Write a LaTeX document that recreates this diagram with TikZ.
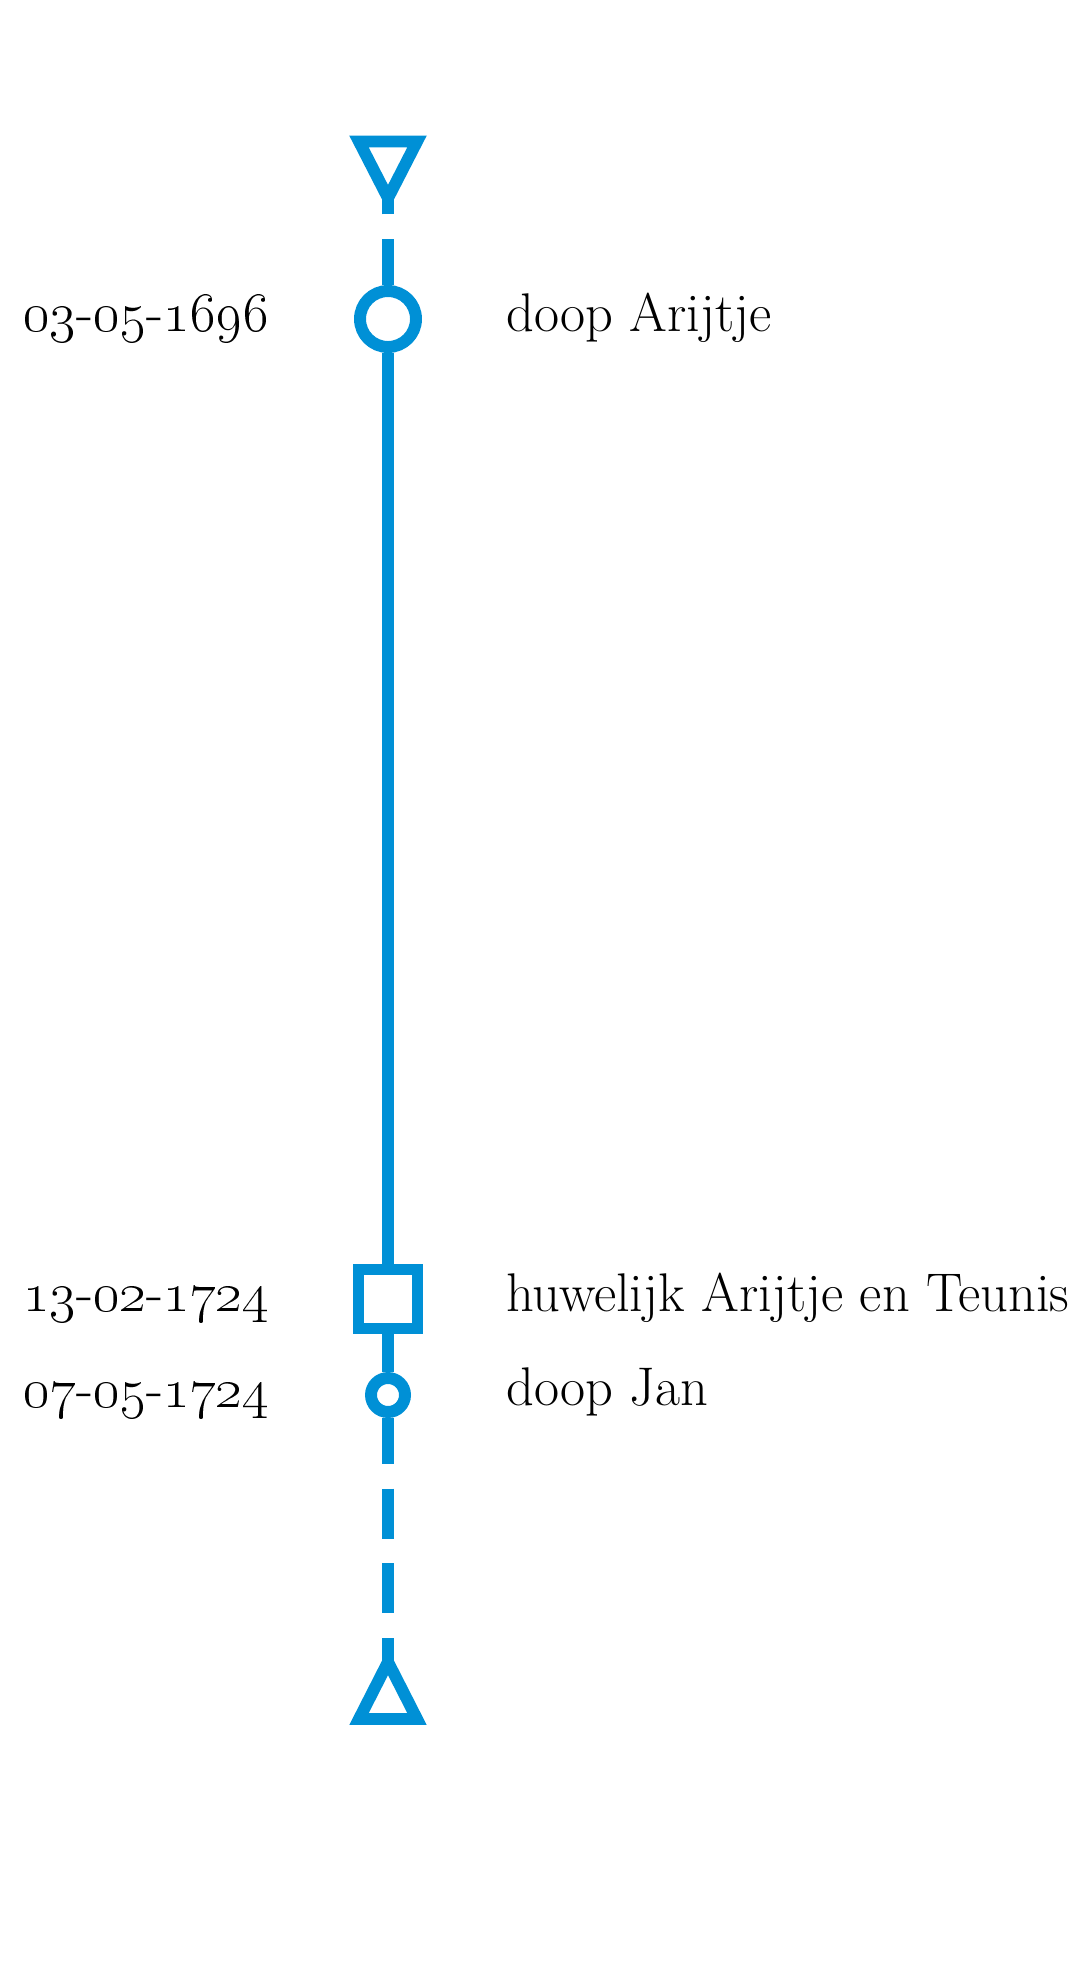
\documentclass[tikz,border=0pt]{standalone}
\usepackage{fix-cm}
\usepackage{tikz}
\definecolor{lijnblauw}{RGB}{0,144,214}
\newcommand{\datum}[3]{\oldstylenums{#1}-\oldstylenums{#2}-\oldstylenums{#3}}

\begin{document}
\begin{tikzpicture}
  [x=0.02cm,y=-0.02cm,
  lijn/.style={lijnblauw,line width=6.8pt},
  streep/.style={lijn,dash pattern=on 28.35pt off 14.17pt,dash phase=2.27pt},
  doop/.style={circle,draw=lijnblauw,line width=6.8pt,inner sep=0pt,minimum size=1.12cm},
  kleindoop/.style={circle,draw=lijnblauw,line width=6.8pt,inner sep=0pt,minimum size=0.68cm},
  huwelijk/.style={rectangle,draw=lijnblauw,line width=6.8pt,inner sep=0pt,minimum size=1.18cm},
  datumtekst/.style={anchor=base east,inner sep=0pt,font=\fontsize{32}{38}\selectfont},
  tekst/.style={anchor=base west,inner sep=0pt,font=\fontsize{31}{37}\selectfont}]
  \useasboundingbox (0,0) rectangle (1075,1961);

  \draw[lijn] (359,141.5) -- (417,141.5) -- (388,198) -- cycle;
  \coordinate (begin) at (388,198);
  \draw[lijn] (359,1719) -- (417,1719) -- (388,1662) -- cycle;
  \coordinate (einde) at (388,1662);

  \node[doop] (arijtje) at (388,319) {};
  \node[huwelijk] (trouw) at (388,1299) {};
  \node[kleindoop] (jan) at (388,1395) {};

  \draw[streep] (arijtje.north) -- (begin);
  \draw[lijn] (arijtje.south) -- (trouw.north);
  \draw[lijn] (trouw.south) -- (jan.north);
  \draw[streep] (jan.south) -- (einde);

  \node[datumtekst] (d1) at (269,331) {\datum{03}{05}{1696}};
  \node[tekst] (t1) at (506,331) {doop Arijtje};
  \node[datumtekst] (d2) at (269,1311) {\datum{13}{02}{1724}};
  \node[tekst] (t2) at (506,1311) {huwelijk Arijtje en Teunis};
  \node[datumtekst] (d3) at (269,1407) {\datum{07}{05}{1724}};
  \node[tekst] (t3) at (506,1405) {doop Jan};
  \end{tikzpicture}
\end{document}
